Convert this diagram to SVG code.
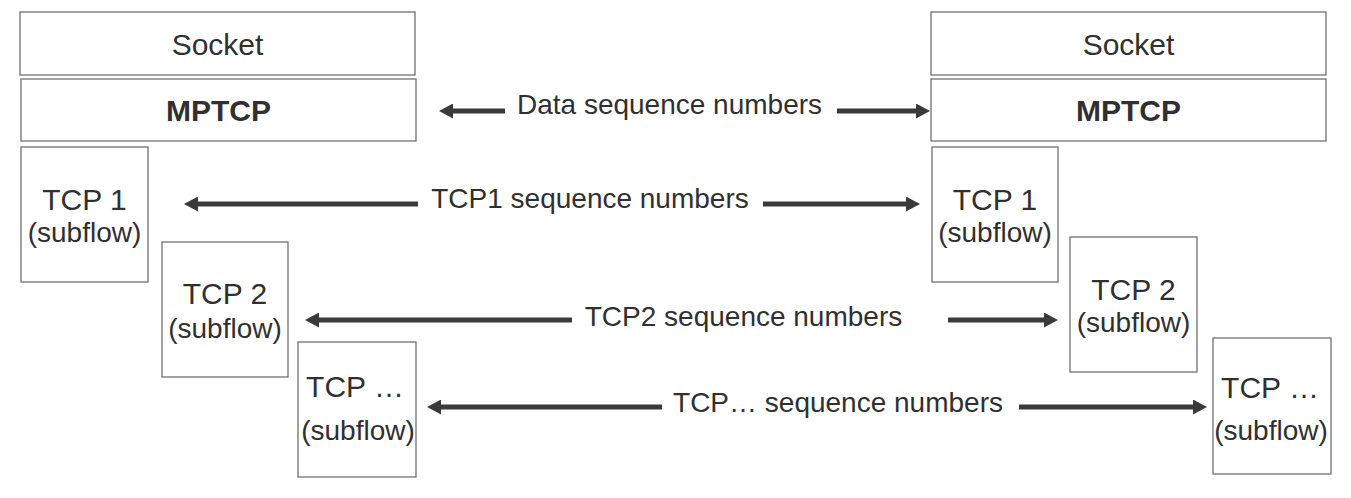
<svg xmlns="http://www.w3.org/2000/svg" width="1351" height="498" viewBox="0 0 1351 498">
<defs>
<style>
.box{fill:#ffffff;stroke:#707070;stroke-width:1.3}
.t{font-family:"Liberation Sans",Arial,sans-serif;fill:#303030;text-anchor:middle}
.big{font-size:30px}
.bold{font-size:30px;font-weight:bold}
.sub{font-size:28px}
.lbl{font-size:28px}
.arr{stroke:#3a3a3a;stroke-width:5;fill:none;marker-end:url(#ah)}
</style>
<marker id="ah" markerUnits="userSpaceOnUse" markerWidth="14" markerHeight="15" refX="0" refY="7.5" orient="auto" viewBox="0 0 14 15">
<path d="M0,0 L14,7.5 L0,15 Z" fill="#3a3a3a"/>
</marker>
</defs>
<rect width="1351" height="498" fill="#ffffff"/>

<g id="left-socket"><rect class="box" x="20" y="12" width="395" height="63"/><text class="t big" x="217.5" y="55">Socket</text></g>
<g id="left-mptcp"><rect class="box" x="21" y="79" width="395" height="62"/><text class="t bold" x="218.5" y="121">MPTCP</text></g>
<g id="left-tcp1"><rect class="box" x="21" y="147" width="127" height="135"/><text class="t big" x="84.5" y="210">TCP 1</text><text class="t sub" x="84.5" y="242">(subflow)</text></g>
<g id="left-tcp2"><rect class="box" x="162" y="242" width="126" height="135"/><text class="t big" x="225" y="304">TCP 2</text><text class="t sub" x="225" y="338">(subflow)</text></g>
<g id="left-tcpn"><rect class="box" x="298" y="342" width="118" height="135"/><text class="t big" x="355" y="397">TCP …</text><text class="t sub" x="358" y="440">(subflow)</text></g>

<g id="right-socket"><rect class="box" x="931" y="12" width="395" height="63"/><text class="t big" x="1128.5" y="55">Socket</text></g>
<g id="right-mptcp"><rect class="box" x="931" y="79" width="395" height="62"/><text class="t bold" x="1128.5" y="121">MPTCP</text></g>
<g id="right-tcp1"><rect class="box" x="932" y="147" width="126" height="135"/><text class="t big" x="995" y="210">TCP 1</text><text class="t sub" x="995" y="242">(subflow)</text></g>
<g id="right-tcp2"><rect class="box" x="1070" y="237" width="127" height="135"/><text class="t big" x="1133.5" y="300">TCP 2</text><text class="t sub" x="1133.5" y="332">(subflow)</text></g>
<g id="right-tcpn"><rect class="box" x="1213" y="338" width="118" height="136"/><text class="t big" x="1270" y="398">TCP …</text><text class="t sub" x="1271" y="440">(subflow)</text></g>

<g id="connectors">
<line class="arr" x1="505" y1="111" x2="453" y2="111"/>
<line class="arr" x1="837" y1="111" x2="916" y2="111"/>
<line class="arr" x1="418" y1="204" x2="198" y2="204"/>
<line class="arr" x1="763" y1="204" x2="906" y2="204"/>
<line class="arr" x1="572" y1="320" x2="319" y2="320"/>
<line class="arr" x1="948" y1="320" x2="1044" y2="320"/>
<line class="arr" x1="662" y1="407" x2="441" y2="407"/>
<line class="arr" x1="1019" y1="407" x2="1193" y2="407"/>
</g>

<g id="labels">
<text class="t lbl" x="669.5" y="114">Data sequence numbers</text>
<text class="t lbl" x="590" y="208">TCP1 sequence numbers</text>
<text class="t lbl" x="743.5" y="326">TCP2 sequence numbers</text>
<text class="t lbl" x="838" y="412">TCP… sequence numbers</text>
</g>
</svg>
